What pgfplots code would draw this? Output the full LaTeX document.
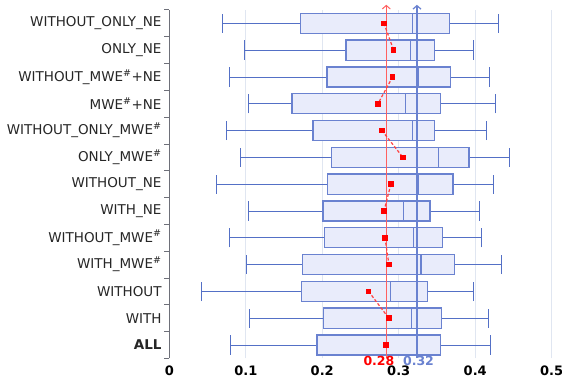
\documentclass[border=0pt]{standalone}
\usepackage{fontspec}
\setmainfont{DejaVu Sans}
\usepackage{pgfplots}
\pgfplotsset{compat=1.18}
\usepgfplotslibrary{statistics}
\usetikzlibrary{arrows.meta}
\definecolor{bedge}{HTML}{6A82D0}
\definecolor{bwhisk}{HTML}{5470C6}
\definecolor{bfill}{HTML}{E9ECFB}
\definecolor{gridc}{HTML}{E0E6F1}
\definecolor{axc}{HTML}{6E7079}
\definecolor{meanred}{HTML}{FF0000}
\definecolor{refred}{HTML}{FF6060}
\newcommand{\hs}{\textsuperscript{\#}}
\newcommand{\bx}[6]{\addplot[bstyle, boxplot prepared={draw position=#1, lower whisker=#2, lower quartile=#3, median=#4, upper quartile=#5, upper whisker=#6}] coordinates {};}
\pgfplotsset{bstyle/.style={
  boxplot/box extend=0.75, boxplot/whisker extend=0.72,
  boxplot/every box/.style={draw=bedge, fill=bfill, line width=1.3pt},
  boxplot/every median/.style={draw=bedge, line width=1.3pt},
  boxplot/every whisker/.style={draw=bwhisk, line width=0.8pt},
  draw=bwhisk}}
\begin{document}
\begin{tikzpicture}
\begin{axis}[name=ax, scale only axis, width=382.4pt, height=348.5pt,
  xmin=0, xmax=0.5, ymin=-0.5, ymax=12.5, clip=false,
  axis x line=bottom, axis y line=left, axis line style={-},
  x axis line style={draw=none},
  y axis line style={draw=axc, line width=0.8pt},
  xtick={0,0.1,0.2,0.3,0.4,0.5}, xticklabels={0,0.1,0.2,0.3,0.4,0.5},
  xmajorgrids, grid style={gridc, line width=0.8pt},
  major tick length=0pt, minor tick length=5pt, tick align=outside,
  ytick={0,...,12},
  yticklabels={\textbf{ALL},WITH,WITHOUT,WITH\_MWE\hs,WITHOUT\_MWE\hs,WITH\_NE,WITHOUT\_NE,ONLY\_MWE\hs,WITHOUT\_ONLY\_MWE\hs,MWE\hs+NE,WITHOUT\_MWE\hs+NE,ONLY\_NE,WITHOUT\_ONLY\_NE},
  minor ytick={-0.5,0.5,...,12.5},
  minor y tick style={draw=axc, line width=0.8pt},
  xticklabel style={font=\fontsize{13}{15}\selectfont\bfseries, text=black, yshift=-3.5pt},
  yticklabel style={font=\fontsize{13.5}{16}\selectfont, text=black!85, inner sep=0pt, xshift=-7.6pt},
]
\bx{12}{0.0698}{0.172}{0.318}{0.3665}{0.4297}
\bx{11}{0.0985}{0.231}{0.315}{0.347}{0.398}
\bx{10}{0.078}{0.206}{0.3255}{0.368}{0.418}
\bx{9}{0.1029}{0.1604}{0.3085}{0.3543}{0.4258}
\bx{8}{0.075}{0.1878}{0.3177}{0.3464}{0.415}
\bx{7}{0.0924}{0.2118}{0.3516}{0.392}{0.4444}
\bx{6}{0.061}{0.207}{0.3255}{0.371}{0.4235}
\bx{5}{0.1029}{0.2009}{0.306}{0.341}{0.405}
\bx{4}{0.078}{0.2026}{0.3195}{0.357}{0.4084}
\bx{3}{0.1007}{0.1739}{0.329}{0.3726}{0.434}
\bx{2}{0.0423}{0.1726}{0.2889}{0.3373}{0.3974}
\bx{1}{0.1046}{0.2018}{0.3168}{0.3556}{0.4166}
\bx{0}{0.0793}{0.193}{0.3242}{0.3547}{0.420}
\addplot[refred, line width=1pt, -{Straight Barb[length=3.5pt,width=8pt]}] coordinates {(0.2837,-0.5) (0.2837,12.69)};
\addplot[bedge, line width=1.2pt, -{Straight Barb[length=3.5pt,width=8pt]}] coordinates {(0.3238,-0.5) (0.3238,12.69)};
\pgfplotsset{meanstyle/.style={meanred!75, line width=1.2pt, dash pattern=on 3pt off 2pt, mark=square*, mark size=2.2pt, mark options={solid, fill=meanred, draw=meanred}}}
\addplot[meanstyle] coordinates {(0.2807,12) (0.2933,11)};
\addplot[meanstyle] coordinates {(0.292,10) (0.2728,9)};
\addplot[meanstyle] coordinates {(0.278,8) (0.3055,7)};
\addplot[meanstyle] coordinates {(0.2898,6) (0.2807,5)};
\addplot[meanstyle] coordinates {(0.282,4) (0.2872,3)};
\addplot[meanstyle] coordinates {(0.2606,2) (0.287,1)};
\addplot[meanstyle] coordinates {(0.2832,0)};
\node[text=meanred, font=\fontsize{12.5}{14}\selectfont\bfseries] at (axis cs:0.2741,-0.5) [yshift=-2.3pt] {0.28};
\node[text=bedge, font=\fontsize{12.5}{14}\selectfont\bfseries] at (axis cs:0.3258,-0.5) [yshift=-2.3pt] {0.32};
\end{axis}
\pgfresetboundingbox
\path ([xshift=-169.3pt,yshift=-19.6pt]ax.south west) rectangle ([xshift=10.3pt,yshift=9.9pt]ax.north east);
\end{tikzpicture}
\end{document}
